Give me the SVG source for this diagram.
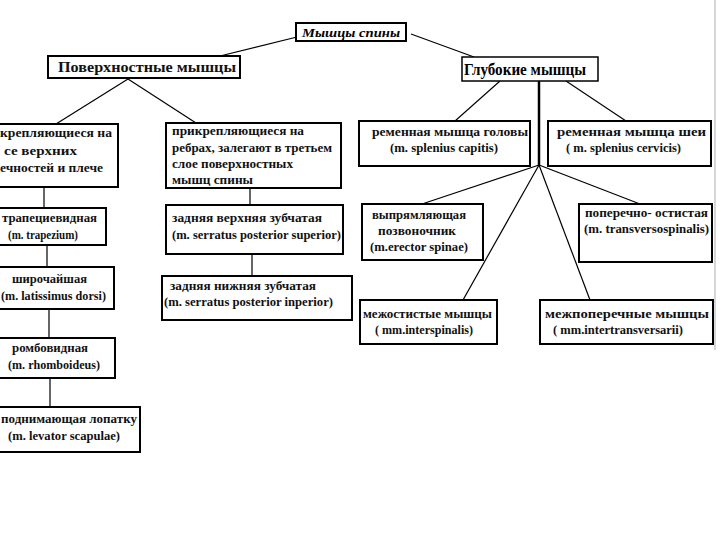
<svg xmlns="http://www.w3.org/2000/svg" width="720" height="540" viewBox="0 0 720 540">
<style>
.box{fill:#fff;stroke:#000;stroke-width:2}
.t{font-family:"Liberation Serif","Times New Roman",serif;font-weight:bold;font-size:11.5px;fill:#111}
.c{stroke:#000;stroke-width:1.2;fill:none}
</style>
<rect width="720" height="540" fill="#fff"/>
<line x1="715" y1="0" x2="715" y2="350" stroke="#c8c8c8" stroke-width="1.5"/>
<g id="connectors">
<line class="c" x1="297" y1="37" x2="220" y2="56"/>
<line class="c" x1="411" y1="34" x2="474" y2="57"/>
<line class="c" x1="128" y1="79" x2="56" y2="124"/>
<line class="c" x1="128" y1="79" x2="196" y2="123"/>
<line class="c" x1="500" y1="81" x2="455" y2="121"/>
<line x1="539" y1="81" x2="539" y2="165" stroke="#000" stroke-width="2.5"/>
<line class="c" x1="566" y1="81" x2="626" y2="121"/>
<line class="c" x1="539" y1="165" x2="422" y2="204"/>
<line class="c" x1="539" y1="165" x2="463" y2="300"/>
<line class="c" x1="539" y1="165" x2="590" y2="300"/>
<line class="c" x1="539" y1="165" x2="640" y2="204"/>
<line class="c" x1="44" y1="187" x2="44" y2="208"/>
<line class="c" x1="47" y1="245" x2="47" y2="267"/>
<line class="c" x1="49" y1="309" x2="49" y2="338"/>
<line class="c" x1="50" y1="378" x2="50" y2="407"/>
<line class="c" x1="250" y1="188" x2="250" y2="205"/>
<line class="c" x1="252" y1="254" x2="252" y2="276"/>
</g>
<g id="root">
<rect class="box" x="296" y="23" width="110" height="18"/>
<text x="351" y="37" text-anchor="middle" style="font-family:'Liberation Serif',serif;font-style:italic;font-weight:bold;font-size:12.5px" textLength="98" lengthAdjust="spacingAndGlyphs">Мышцы спины</text>
</g>
<g id="surface">
<rect class="box" x="48" y="56" width="192" height="22"/>
<text class="t" x="58" y="72" style="font-size:15px" textLength="178" lengthAdjust="spacingAndGlyphs">Поверхностные мышцы</text>
</g>
<g id="deep">
<rect x="462" y="57" width="136" height="24" fill="#fff" stroke="#000" stroke-width="1.5"/>
<text x="464" y="75" style="font-family:'Liberation Serif',serif;font-size:16px;font-weight:bold" textLength="122" lengthAdjust="spacingAndGlyphs">Глубокие мышцы</text>
</g>
<g id="limb">
<rect class="box" x="-5" y="124" width="123" height="63"/>
<text class="t" x="0" y="137" textLength="112" lengthAdjust="spacingAndGlyphs">крепляющиеся на</text>
<text class="t" x="4" y="155" textLength="73" lengthAdjust="spacingAndGlyphs">се верхних</text>
<text class="t" x="0" y="172" textLength="103" lengthAdjust="spacingAndGlyphs">ечностей и плече</text>
</g>
<g id="ribs">
<rect class="box" x="166" y="123" width="175" height="65"/>
<text class="t" x="172" y="135" textLength="132" lengthAdjust="spacingAndGlyphs">прикрепляющиеся на</text>
<text class="t" x="172" y="152" textLength="160" lengthAdjust="spacingAndGlyphs">ребрах, залегают в третьем</text>
<text class="t" x="172" y="168" textLength="121" lengthAdjust="spacingAndGlyphs">слое поверхностных</text>
<text class="t" x="172" y="184" textLength="81" lengthAdjust="spacingAndGlyphs">мышц спины</text>
</g>
<g id="splenius-capitis">
<rect class="box" x="359" y="121" width="171" height="45"/>
<text class="t" x="372" y="136" textLength="156" lengthAdjust="spacingAndGlyphs">ременная мышца головы</text>
<text class="t" x="390" y="152" textLength="108" lengthAdjust="spacingAndGlyphs">(m. splenius capitis)</text>
</g>
<g id="splenius-cervicis">
<rect class="box" x="548" y="121" width="163" height="45"/>
<text class="t" x="557" y="136" textLength="149" lengthAdjust="spacingAndGlyphs">ременная мышца шеи</text>
<text class="t" x="566" y="152" textLength="115" lengthAdjust="spacingAndGlyphs">( m. splenius cervicis)</text>
</g>
<g id="trapezius">
<rect class="box" x="-5" y="208" width="111" height="37"/>
<text class="t" x="2" y="222" textLength="95" lengthAdjust="spacingAndGlyphs">трапециевидная</text>
<text class="t" x="8" y="239" textLength="70" lengthAdjust="spacingAndGlyphs">(m. trapezium)</text>
</g>
<g id="latissimus">
<rect class="box" x="-5" y="267" width="119" height="42"/>
<text class="t" x="12" y="283" textLength="75" lengthAdjust="spacingAndGlyphs">широчайшая</text>
<text class="t" x="1" y="300" textLength="105" lengthAdjust="spacingAndGlyphs">(m. latissimus dorsi)</text>
</g>
<g id="rhomboideus">
<rect class="box" x="-5" y="338" width="120" height="40"/>
<text class="t" x="12" y="352" textLength="76" lengthAdjust="spacingAndGlyphs">ромбовидная</text>
<text class="t" x="8" y="369" textLength="92" lengthAdjust="spacingAndGlyphs">(m. rhomboideus)</text>
</g>
<g id="levator">
<rect class="box" x="-5" y="407" width="145" height="45"/>
<text class="t" x="1" y="423" textLength="136" lengthAdjust="spacingAndGlyphs">поднимающая лопатку</text>
<text class="t" x="8" y="440" textLength="112" lengthAdjust="spacingAndGlyphs">(m. levator scapulae)</text>
</g>
<g id="serratus-superior">
<rect class="box" x="166" y="205" width="177" height="49"/>
<text class="t" x="172" y="222" textLength="150" lengthAdjust="spacingAndGlyphs">задняя верхняя зубчатая</text>
<text class="t" x="172" y="239" textLength="169" lengthAdjust="spacingAndGlyphs">(m. serratus posterior superior)</text>
</g>
<g id="serratus-inferior">
<rect class="box" x="162" y="276" width="190" height="44"/>
<text class="t" x="170" y="290" textLength="146" lengthAdjust="spacingAndGlyphs">задняя нижняя зубчатая</text>
<text class="t" x="164" y="306" textLength="169" lengthAdjust="spacingAndGlyphs">(m. serratus posterior inperior)</text>
</g>
<g id="erector">
<rect class="box" x="362" y="204" width="121" height="56"/>
<text class="t" x="372" y="219" textLength="94" lengthAdjust="spacingAndGlyphs">выпрямляющая</text>
<text class="t" x="378" y="235" textLength="78" lengthAdjust="spacingAndGlyphs">позвоночник</text>
<text class="t" x="370" y="251" textLength="98" lengthAdjust="spacingAndGlyphs">(m.erector spinae)</text>
</g>
<g id="transversospinalis">
<rect class="box" x="579" y="204" width="133" height="58"/>
<text class="t" x="585" y="217" textLength="123" lengthAdjust="spacingAndGlyphs">поперечно- остистая</text>
<text class="t" x="584" y="233" textLength="125" lengthAdjust="spacingAndGlyphs">(m. transversospinalis)</text>
</g>
<g id="interspinales">
<rect class="box" x="360" y="300" width="137" height="44"/>
<text class="t" x="363" y="318" textLength="129" lengthAdjust="spacingAndGlyphs">межостистые мышцы</text>
<text class="t" x="375" y="334" textLength="98" lengthAdjust="spacingAndGlyphs">( mm.interspinalis)</text>
</g>
<g id="intertransversarii">
<rect class="box" x="540" y="300" width="173" height="44"/>
<text class="t" x="545" y="318" textLength="164" lengthAdjust="spacingAndGlyphs">межпоперечные мышцы</text>
<text class="t" x="553" y="334" textLength="130" lengthAdjust="spacingAndGlyphs">( mm.intertransversarii)</text>
</g>
</svg>
